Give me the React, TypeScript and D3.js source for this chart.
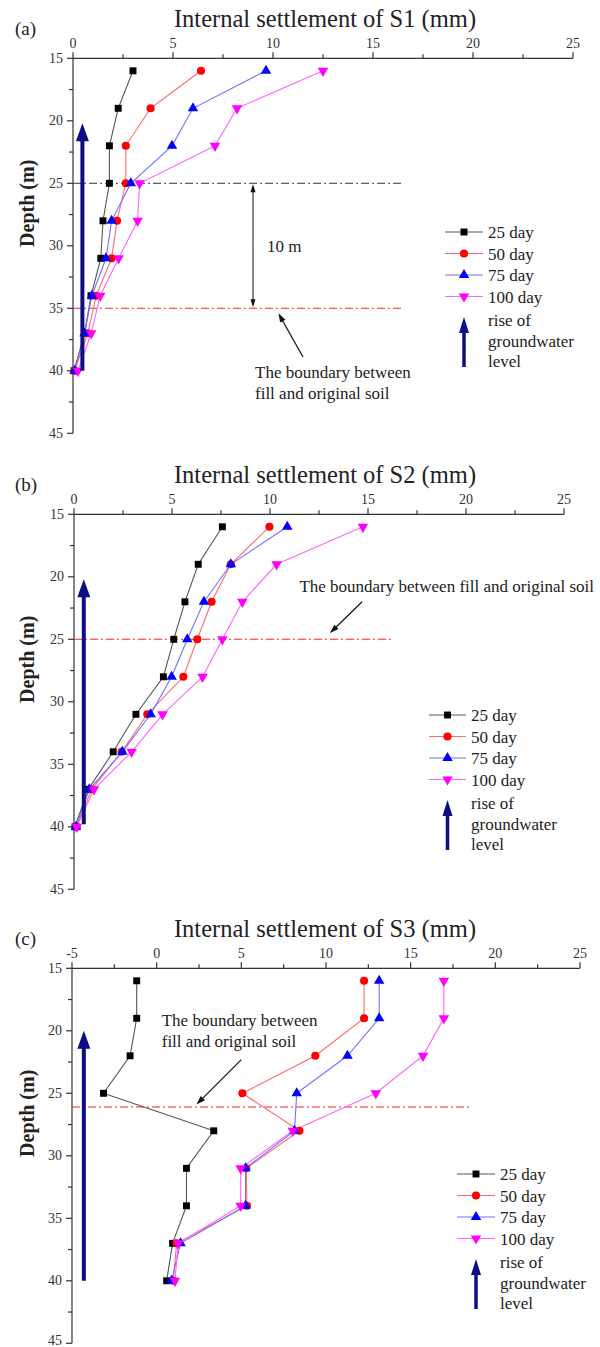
import React from 'react';
import * as d3 from 'd3';

// depths of the measuring points (m)
const depths = [16, 19, 22, 25, 28, 31, 34, 37, 40];
const dayLabels = ['25 day', '50 day', '75 day', '100 day'];
const depthTicks = [15, 20, 25, 30, 35, 40, 45];
const ticksS12 = [0, 5, 10, 15, 20, 25];
const ticksS3 = [-5, 0, 5, 10, 15, 20, 25];

// S1
const s1Day25 = [3.0, 2.26, 1.82, 1.82, 1.5, 1.39, 0.9, 0.58, 0.05];
const s1Day50 = [6.4, 3.88, 2.64, 2.64, 2.2, 1.93, 1.16, 0.74, 0.08];
const s1Day75 = [9.65, 6.0, 4.95, 2.89, 1.93, 1.65, 0.94, 0.58, 0.08];
const s1Day100 = [12.5, 8.2, 7.1, 3.33, 3.23, 2.28, 1.36, 0.91, 0.25];
// S2
const s2Day25 = [7.57, 6.34, 5.66, 5.09, 4.56, 3.16, 2.0, 0.73, 0.05];
const s2Day50 = [9.97, 8.0, 7.02, 6.29, 5.58, 3.74, 2.43, 0.9, 0.14];
const s2Day75 = [10.88, 8.0, 6.63, 5.78, 4.98, 3.91, 2.47, 0.78, 0.1];
const s2Day100 = [14.74, 10.34, 8.59, 7.57, 6.56, 4.52, 2.94, 1.02, 0.14];
// S3
const s3Day25 = [-1.18, -1.18, -1.57, -3.14, 3.37, 1.76, 1.76, 0.94, 0.59];
const s3Day50 = [12.25, 12.25, 9.37, 5.06, 8.43, 5.29, 5.33, 1.18, 0.98];
const s3Day75 = [13.14, 13.14, 11.27, 8.27, 8.14, 5.25, 5.25, 1.41, 0.88];
const s3Day100 = [16.96, 16.96, 15.73, 12.94, 8.04, 4.96, 4.96, 1.27, 1.08];

const FONT = "'Liberation Serif', 'Times New Roman', serif";
const markColors = ['#000000', '#ff0000', '#0000ff', '#ff00ff'];
const lineColors = ['#555555', '#ff6a6a', '#7070ff', '#ff66ff'];
const NAVY = '#0d0d85';

const symbolPath = (i: number) => {
  if (i === 0) return d3.symbol(d3.symbolSquare, 48)()!;
  if (i === 1) return d3.symbol(d3.symbolCircle, 52)()!;
  return d3.symbol(d3.symbolTriangle, 48)()!;
};

const headPath = (x1: number, y1: number, x2: number, y2: number, len: number, w: number) => {
  const dx = x2 - x1, dy = y2 - y1, L = Math.hypot(dx, dy);
  const ux = dx / L, uy = dy / L;
  const bx = x2 - ux * len, by = y2 - uy * len;
  const px = -uy * w / 2, py = ux * w / 2;
  return `M${x2},${y2}L${bx + px},${by + py}L${bx - px},${by - py}Z`;
};

const Arrow = ({ x1, y1, x2, y2, len, w, sw, color }: any) => {
  const L = Math.hypot(x2 - x1, y2 - y1);
  const ex = x2 - (x2 - x1) / L * (len - 1), ey = y2 - (y2 - y1) / L * (len - 1);
  return (
    <g>
      <line x1={x1} y1={y1} x2={ex} y2={ey} stroke={color} strokeWidth={sw} />
      <path d={headPath(x1, y1, x2, y2, len, w)} fill={color} />
    </g>
  );
};

const panels = [
  {
    tag: '(a)', title: 'Internal settlement of S1 (mm)',
    series: [s1Day25, s1Day50, s1Day75, s1Day100], xTicks: ticksS12,
    left: 73, right: 573, top: 58.3,
    bounds: [{ depth: 25, color: '#333333' }, { depth: 35, color: '#ff2020' }], boundEnd: 16.5,
    note: { lines: ['The boundary between', 'fill and original soil'], x: 9.1, depth: 40.6, from: [11.5, 38.9], to: [10.27, 35.4] },
    span: { x: 9, from: 25, to: 35, label: '10 m' },
    rise: { x: 0.47, from: 40, to: 20.2 },
    legend: { x0: 445, x1: 483, y0: 232 },
  },
  {
    tag: '(b)', title: 'Internal settlement of S2 (mm)',
    series: [s2Day25, s2Day50, s2Day75, s2Day100], xTicks: ticksS12,
    left: 74, right: 564, top: 514.3,
    bounds: [{ depth: 25, color: '#ff2020' }], boundEnd: 16.3,
    note: { lines: ['The boundary between fill and original soil'], x: 11.5, depth: 21.2, from: [14.7, 22.0], to: [13.06, 24.5] },
    span: null,
    rise: { x: 0.5, from: 39.8, to: 20.2 },
    legend: { x0: 429, x1: 466, y0: 715 },
  },
  {
    tag: '(c)', title: 'Internal settlement of S3 (mm)',
    series: [s3Day25, s3Day50, s3Day75, s3Day100], xTicks: ticksS3,
    left: 72, right: 580, top: 968.3,
    bounds: [{ depth: 26.1, color: '#ff2020' }], boundEnd: 18.6,
    note: { lines: ['The boundary between', 'fill and original soil'], x: 0.3, depth: 19.6, from: [5.0, 22.3], to: [2.35, 25.9] },
    span: null,
    rise: { x: -4.3, from: 40, to: 20 },
    legend: { x0: 457, x1: 495, y0: 1174 },
  },
];

const Panel = ({ p }: any) => {
  const xDom = d3.extent(p.xTicks) as [number, number];
  const x = d3.scaleLinear().domain(xDom).range([p.left, p.right]);
  const y = d3.scaleLinear().domain([15, 45]).range([p.top, p.top + 375]);
  const minorX = d3.range(xDom[0] + 2.5, xDom[1], 5);
  const minorY = d3.range(17.5, 45, 5);
  const line = d3.line<[number, number]>().x(d => x(d[0])).y(d => y(d[1]));
  const midX = 325;
  const lg = p.legend;
  const rowH = 21.5;
  const riseY = lg.y0 + 88;
  return (
    <g style={{ fontFamily: FONT }}>
      <text x={15} y={p.top - 23} fontSize={19} fill="#222">{p.tag}</text>
      <text x={midX} y={p.top - 31} fontSize={24.5} textAnchor="middle" fill="#222">{p.title}</text>
      {/* top axis */}
      <line x1={p.left} x2={p.right} y1={p.top} y2={p.top} stroke="#333" strokeWidth={1.2} />
      {p.xTicks.map((t: number) => (
        <g key={'xt' + t}>
          <line x1={x(t)} x2={x(t)} y1={p.top} y2={p.top - 6} stroke="#333" strokeWidth={1.2} />
          <text x={x(t)} y={p.top - 10} fontSize={14} textAnchor="middle" fill="#333">{t}</text>
        </g>
      ))}
      {minorX.map((t: number) => (
        <line key={'xm' + t} x1={x(t)} x2={x(t)} y1={p.top} y2={p.top - 4} stroke="#333" strokeWidth={1.2} />
      ))}
      {/* left axis */}
      <line x1={p.left} x2={p.left} y1={p.top} y2={y(45)} stroke="#333" strokeWidth={1.2} />
      {depthTicks.map((t: number) => (
        <g key={'yt' + t}>
          <line x1={p.left} x2={p.left - 6} y1={y(t)} y2={y(t)} stroke="#333" strokeWidth={1.2} />
          <text x={p.left - 10} y={Math.min(y(t) + 4.5, 1345)} fontSize={14} textAnchor="end" fill="#333">{t}</text>
        </g>
      ))}
      {minorY.map((t: number) => (
        <line key={'ym' + t} x1={p.left} x2={p.left - 4} y1={y(t)} y2={y(t)} stroke="#333" strokeWidth={1.2} />
      ))}
      <text transform={`translate(34,${y(26.6)}) rotate(-90)`} fontSize={20} fontWeight="bold" textAnchor="middle" fill="#222">Depth (m)</text>

      {/* boundaries */}
      {p.bounds.map((b: any) => (
        <line key={'b' + b.depth} x1={x(xDom[0])} x2={x(p.boundEnd)} y1={y(b.depth)} y2={y(b.depth)}
          stroke={b.color} strokeWidth={1.1} strokeDasharray="8,3,2,3" />
      ))}
      {p.span && (
        <g>
          <Arrow x1={x(p.span.x)} y1={(y(p.span.from) + y(p.span.to)) / 2} x2={x(p.span.x)} y2={y(p.span.from) + 1} len={8} w={5} sw={1} color="#111" />
          <Arrow x1={x(p.span.x)} y1={(y(p.span.from) + y(p.span.to)) / 2} x2={x(p.span.x)} y2={y(p.span.to) - 1} len={8} w={5} sw={1} color="#111" />
          <text x={x(p.span.x) + 14} y={y((p.span.from + p.span.to) / 2) + 6} fontSize={17} fill="#222">{p.span.label}</text>
        </g>
      )}
      {p.note.lines.map((s: string, i: number) => (
        <text key={'n' + i} x={x(p.note.x)} y={y(p.note.depth) + i * 21} fontSize={17} fill="#222">{s}</text>
      ))}
      <Arrow x1={x(p.note.from[0])} y1={y(p.note.from[1])} x2={x(p.note.to[0])} y2={y(p.note.to[1])} len={9} w={6} sw={1.2} color="#111" />

      {/* series */}
      {p.series.map((vals: number[], i: number) => (
        <path key={'l' + i} d={line(vals.map((v, k) => [v, depths[k]] as [number, number]))!}
          fill="none" stroke={lineColors[i]} strokeWidth={1.1} />
      ))}
      {p.series.map((vals: number[], i: number) => vals.map((v, k) => (
        <path key={'m' + i + '-' + k} d={symbolPath(i)}
          transform={`translate(${x(v)},${y(depths[k])})${i === 3 ? ' rotate(180)' : ''}`} fill={markColors[i]} />
      )))}

      {/* rise of groundwater */}
      <Arrow x1={x(p.rise.x)} y1={y(p.rise.from)} x2={x(p.rise.x)} y2={y(p.rise.to)} len={18} w={13} sw={4} color={NAVY} />

      {/* legend */}
      {dayLabels.map((lab: string, i: number) => {
        const yy = lg.y0 + i * rowH;
        const cx = (lg.x0 + lg.x1) / 2;
        return (
          <g key={'lg' + i}>
            <line x1={lg.x0} x2={lg.x1} y1={yy} y2={yy} stroke={lineColors[i]} strokeWidth={1.1} />
            <path d={symbolPath(i)} transform={`translate(${cx},${yy})${i === 3 ? ' rotate(180)' : ''}`} fill={markColors[i]} />
            <text x={lg.x1 + 5} y={yy + 6} fontSize={17} fill="#222">{lab}</text>
          </g>
        );
      })}
      <Arrow x1={(lg.x0 + lg.x1) / 2} y1={riseY + 47} x2={(lg.x0 + lg.x1) / 2} y2={riseY - 3} len={16} w={10} sw={3.5} color={NAVY} />
      {['rise of', 'groundwater', 'level'].map((s, i) => (
        <text key={'r' + i} x={lg.x1 + 5} y={riseY + 6 + i * 20.5} fontSize={17} fill="#222">{s}</text>
      ))}
    </g>
  );
};

export default function App() {
  return (
    <div>
      <style>{'body{margin:0;background:#fff}'}</style>
      <svg width={600} height={1347} style={{ display: 'block', background: '#fff' }}>
        {panels.map(p => <Panel key={p.tag} p={p} />)}
      </svg>
    </div>
  );
}
